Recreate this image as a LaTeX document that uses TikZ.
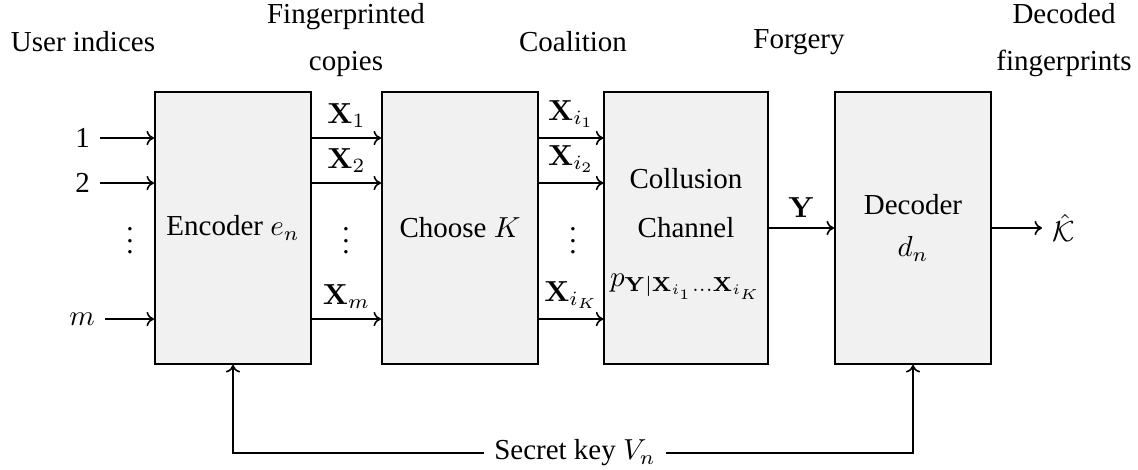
\documentclass[tikz,border=0pt]{standalone}
\usepackage[no-math]{fontspec}
\setmainfont{Liberation Serif}
\usetikzlibrary{arrows.meta}
\definecolor{boxfill}{RGB}{241,241,241}
\begin{document}
\begin{tikzpicture}[x=0.345pt,y=-0.345pt,
  blk/.style={draw=black, line width=0.7pt, fill=boxfill, minimum width=53.8pt,
              minimum height=93.8pt, align=center, inner sep=2pt},
  conn/.style={line width=0.55pt, -{To[length=2.6pt,width=5pt]}},
  toplbl/.style={align=center}]
\useasboundingbox (0,0) rectangle (1138,469);

% blocks
\node[blk] (enc) at (233,228) {Encoder $e_n$};
\node[blk] (ch)  at (460,228) {Choose $K$};
\node[blk] (col) at (686,228) {\rule{0pt}{11pt}Collusion\\[5pt]Channel\\[5pt]$p_{\mathbf{Y}|\mathbf{X}_{i_1}\ldots\mathbf{X}_{i_K}}$};
\node[blk] (dec) at (913,228) {Decoder\\[2.5pt]$d_n$};

% top labels
\node[toplbl] (tUser) at (83,42) {User indices};
\node[toplbl] (tFing) at (346,40) {Fingerprinted\\[4pt]copies};
\node[toplbl] (tCoal) at (573,42) {Coalition};
\node[toplbl] (tForg) at (799,42) {Forgery};
\node[toplbl] (tDec)  at (1064,40) {Decoded\\[4pt]fingerprints};

% inputs
\node[anchor=east] (in1) at (100,138) {1};
\node[anchor=east] (in2) at (100,183) {2};
\node[anchor=east] (inm) at (105,319) {$m$};
\node (dotsA) at (130,232) {$\vdots$};
\draw[conn] (in1.east) -- (in1.east -| enc.west);
\draw[conn] (in2.east) -- (in2.east -| enc.west);
\draw[conn] (inm.east) -- (inm.east -| enc.west);

% encoder -> choose K
\draw[conn] (in1.east -| enc.east) -- (in1.east -| ch.west) node[midway,above] (lx1) {$\mathbf{X}_1$};
\draw[conn] (in2.east -| enc.east) -- (in2.east -| ch.west) node[midway,above] (lx2) {$\mathbf{X}_2$};
\draw[conn] (inm.east -| enc.east) -- (inm.east -| ch.west) node[midway,above] (lxm) {$\mathbf{X}_m$};
\node (dotsB) at (346,232) {$\vdots$};

% choose K -> collusion
\draw[conn] (in1.east -| ch.east) -- (in1.east -| col.west) node[midway,above] (li1) {$\mathbf{X}_{i_1}$};
\draw[conn] (in2.east -| ch.east) -- (in2.east -| col.west) node[midway,above] (li2) {$\mathbf{X}_{i_2}$};
\draw[conn] (inm.east -| ch.east) -- (inm.east -| col.west) node[midway,above] (liK) {$\mathbf{X}_{i_K}$};
\node (dotsC) at (573,232) {$\vdots$};

% collusion -> decoder
\draw[conn] (col.east) -- (dec.west) node[midway,above] (lY) {$\mathbf{Y}$};

% output
\node[anchor=west] (khat) at (1042,228) {$\hat{\mathcal{K}}$};
\draw[conn] (dec.east) -- (khat.west);

% secret key
\node (key) at (575,453) {Secret key $V_n$};
\draw[conn] (key.west) -| (enc.south);
\draw[conn] (key.east) -| (dec.south);
\end{tikzpicture}
\end{document}
